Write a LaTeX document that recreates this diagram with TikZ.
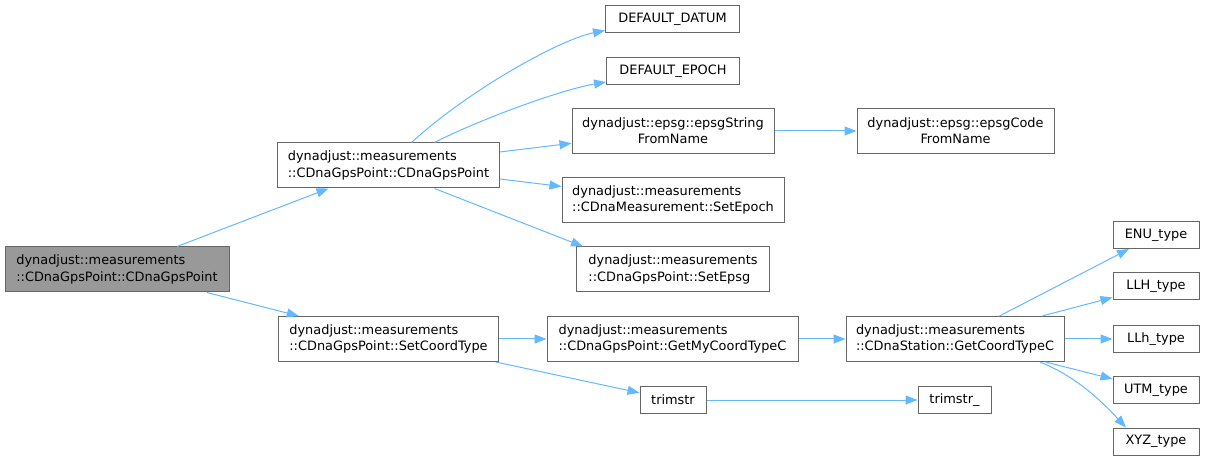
\documentclass[tikz,border=0pt]{standalone}
\usepackage{fontspec}
\setmainfont{DejaVu Sans}
\usetikzlibrary{arrows.meta}
\definecolor{EdgeBlue}{HTML}{63B8FF}
\definecolor{BoxGray}{HTML}{666666}
\definecolor{RootFill}{HTML}{999999}

\begin{document}
\begin{tikzpicture}[x=1pt, y=-1pt,
    fn/.style={draw=BoxGray, line width=1pt, fill=white, inner sep=0pt,
        align=left, font=\fontsize{12.9}{16.3}\selectfont},
    two/.style={fn, minimum height=45pt},
    one/.style={fn, minimum height=27pt},
    arr/.style={-{Triangle[length=12pt, width=9pt]}, EdgeBlue, line width=1pt}
]
\useasboundingbox (0,0) rectangle (1205,462);

% caller chain
\node[two, fill=RootFill, minimum width=224pt] (root) at (117, 269.5)
    {dynadjust::measurements\\::CDnaGpsPoint::CDnaGpsPoint};
\node[two, minimum width=222pt] (ctor) at (388.5, 165.5)
    {dynadjust::measurements\\::CDnaGpsPoint::CDnaGpsPoint};
\node[two, minimum width=220pt] (setcoord) at (388.5, 339)
    {dynadjust::measurements\\::CDnaGpsPoint::SetCoordType};

% callees of the constructor
\node[one, minimum width=134pt] (datum) at (672.5, 19.5) {DEFAULT\_DATUM};
\node[one, minimum width=133pt] (epoch) at (673, 71) {DEFAULT\_EPOCH};
\node[two, minimum width=202pt, align=center] (epsgstr) at (673, 131)
    {dynadjust::epsg::epsgString\\FromName};
\node[two, minimum width=197pt, align=center] (epsgcode) at (955.5, 131)
    {dynadjust::epsg::epsgCode\\FromName};
\node[two, minimum width=222pt] (setepoch) at (673, 200)
    {dynadjust::measurements\\::CDnaMeasurement::SetEpoch};
\node[two, minimum width=193pt] (setepsg) at (673, 269.5)
    {dynadjust::measurements\\::CDnaGpsPoint::SetEpsg};

% callees of SetCoordType
\node[two, minimum width=251pt] (getmy) at (672.5, 339)
    {dynadjust::measurements\\::CDnaGpsPoint::GetMyCoordTypeC};
\node[two, minimum width=218pt] (getcoord) at (955, 339)
    {dynadjust::measurements\\::CDnaStation::GetCoordTypeC};
\node[one, minimum width=66pt] (trimstr) at (673, 400) {trimstr};
\node[one, minimum width=73pt] (trimstru) at (954.5, 400) {trimstr\_};

% coordinate types
\node[one, minimum width=86pt] (enu) at (1156, 235) {ENU\_type};
\node[one, minimum width=86pt] (llh) at (1156, 286) {LLH\_type};
\node[one, minimum width=86pt] (llhs) at (1156, 339) {LLh\_type};
\node[one, minimum width=86pt] (utm) at (1156, 390) {UTM\_type};
\node[one, minimum width=86pt] (xyz) at (1156, 441.5) {XYZ\_type};

\draw[arr] (root) -- (ctor);
\draw[arr] (root) -- (setcoord);

\draw[arr] ([xshift=23pt]ctor.north) .. controls +(58,-53) and +(-45,9) .. ([yshift=-11pt]datum.west);
\draw[arr] ([xshift=46pt]ctor.north) .. controls +(45,-23) and +(-46,8) .. ([yshift=-11pt]epoch.west);
\draw[arr] (ctor) -- (epsgstr);
\draw[arr] (ctor) -- (setepoch);
\draw[arr] ([xshift=46pt]ctor.south) -- ([xshift=-90pt]setepsg.north);
\draw[arr] (epsgstr) -- (epsgcode);

\draw[arr] (setcoord) -- (getmy);
\draw[arr] (setcoord) -- (trimstr);
\draw[arr] (getmy) -- (getcoord);
\draw[arr] (trimstr) -- (trimstru);

\draw[arr] (getcoord) -- (enu);
\draw[arr] (getcoord) -- (llh);
\draw[arr] (getcoord) -- (llhs);
\draw[arr] (getcoord) -- (utm);
\draw[arr] ([xshift=85pt]getcoord.south) .. controls +(35,14) and +(-26,-28) .. ([xshift=-30pt]xyz.north);

\end{tikzpicture}
\end{document}
